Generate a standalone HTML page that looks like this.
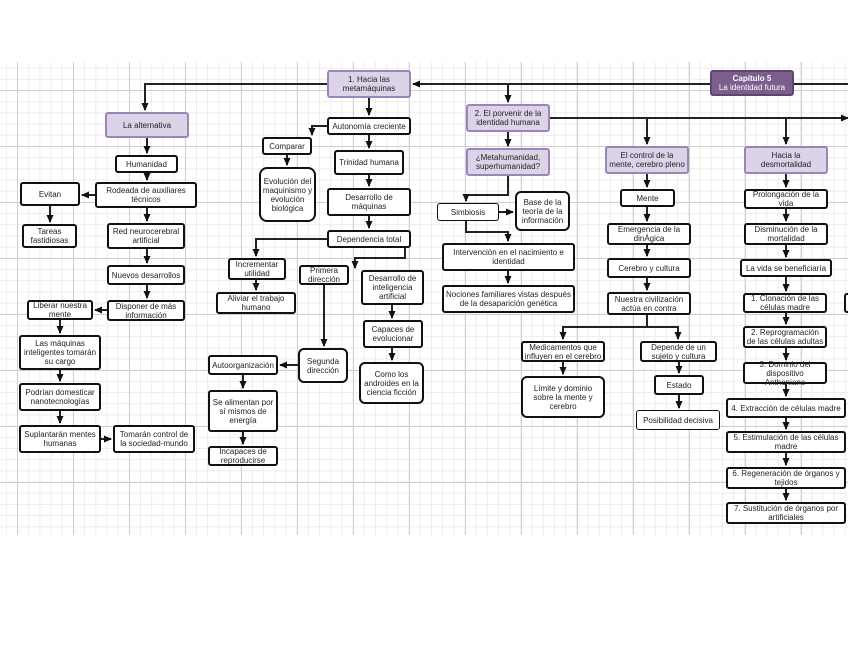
<!DOCTYPE html>
<html><head><meta charset="utf-8"><style>
body{margin:0;width:848px;height:655px;background:#fff;position:relative;overflow:hidden;font-family:"Liberation Sans",sans-serif}
#grid{position:absolute;left:0;top:62px;width:848px;height:473px;
background-image:linear-gradient(#cfcfcf 1px,transparent 1px),linear-gradient(90deg,#cfcfcf 1px,transparent 1px),linear-gradient(#ececec 1px,transparent 1px),linear-gradient(90deg,#ececec 1px,transparent 1px);
background-size:56px 56px,56px 56px,11.2px 11.2px,11.2px 11.2px;background-position:0 28px,17px 0,0 28px,17px 0}
.b{position:absolute;box-sizing:border-box;border:2px solid #111;border-radius:3px;background:#fff;font-size:8px;line-height:9px;text-align:center;display:flex;flex-direction:column;align-items:center;justify-content:center;color:#222;padding:0 1px}
.p{background:#ddd3e8;border:2px solid #9a85b8;border-radius:3px}
.d{background:#7a5e8e;border:2px solid #5d4570;color:#fff;border-radius:3px}
svg{position:absolute;left:0;top:0}
</style></head><body>
<div id="grid"></div>
<svg width="848" height="655">
<defs><marker id="a" markerUnits="userSpaceOnUse" markerWidth="8" markerHeight="8" refX="7" refY="4" orient="auto"><path d="M0,0.5L8,4L0,7.5z" fill="#111"/></marker></defs>
<g stroke="#222" stroke-width="2" fill="none" marker-end="url(#a)">
<path d="M848,84H413"/><path d="M327,84H145V110"/><path d="M508,84V102"/>
<path d="M550,118H848"/><path d="M647,118V144"/><path d="M786,118V144"/>
<path d="M369,98V115"/><path d="M508,132V146"/>
<path d="M147,138V153"/><path d="M147,173V180"/><path d="M95,195H82"/><path d="M50,206V222"/>
<path d="M147,208V221"/><path d="M147,249V263"/><path d="M147,285V298"/><path d="M107,310H95"/>
<path d="M60,320V333"/><path d="M60,370V381"/><path d="M60,411V423"/><path d="M101,439H111"/>
<path d="M327,126H312V135"/><path d="M287,155V165"/><path d="M369,135V148"/><path d="M369,175V186"/><path d="M369,216V228"/>
<path d="M327,239H256V256"/><path d="M256,280V290"/><path d="M405,248V258H355V268"/><path d="M324,285V346"/>
<path d="M392,305V318"/><path d="M392,348V360"/><path d="M298,365H280"/><path d="M243,375V388"/><path d="M243,432V444"/>
<path d="M508,176V195H466V201"/><path d="M499,212H513"/><path d="M466,221V232H508V241"/><path d="M508,271V283"/>
<path d="M647,174V187"/><path d="M647,207V221"/><path d="M647,245V256"/><path d="M647,278V290"/>
<path d="M647,315V327H563V339"/><path d="M647,327H678V339"/><path d="M563,362V374"/><path d="M679,362V373"/><path d="M679,395V408"/>
<path d="M786,174V187"/><path d="M786,209V221"/><path d="M786,245V257"/><path d="M786,277V291"/><path d="M786,313V324"/>
<path d="M786,348V360"/><path d="M786,384V396"/><path d="M786,418V429"/><path d="M786,453V465"/><path d="M786,489V500"/>
</g></svg>
<div class="b p" style="left:327px;top:70px;width:84px;height:28px">1. Hacia las metamáquinas</div>
<div class="b d" style="left:710px;top:70px;width:84px;height:26px"><b>Capítulo 5</b><span>La identidad futura</span></div>
<div class="b p" style="left:466px;top:104px;width:84px;height:28px">2. El porvenir de la identidad humana</div>
<div class="b p" style="left:105px;top:112px;width:84px;height:26px">La alternativa</div>
<div class="b" style="left:115px;top:155px;width:63px;height:18px">Humanidad</div>
<div class="b" style="left:95px;top:182px;width:102px;height:26px">Rodeada de auxiliares técnicos</div>
<div class="b" style="left:20px;top:182px;width:60px;height:24px">Evitan</div>
<div class="b" style="left:22px;top:224px;width:55px;height:24px">Tareas fastidiosas</div>
<div class="b" style="left:107px;top:223px;width:78px;height:26px">Red neurocerebral artificial</div>
<div class="b" style="left:107px;top:265px;width:78px;height:20px">Nuevos desarrollos</div>
<div class="b" style="left:107px;top:300px;width:78px;height:21px">Disponer de más información</div>
<div class="b" style="left:27px;top:300px;width:66px;height:20px">Liberar nuestra mente</div>
<div class="b" style="left:19px;top:335px;width:82px;height:35px">Las máquinas inteligentes tomarán su cargo</div>
<div class="b" style="left:19px;top:383px;width:82px;height:28px">Podrían domesticar nanotecnologías</div>
<div class="b" style="left:19px;top:425px;width:82px;height:28px">Suplantarán mentes humanas</div>
<div class="b" style="left:113px;top:425px;width:82px;height:28px">Tomarán control de la sociedad-mundo</div>
<div class="b" style="left:327px;top:117px;width:84px;height:18px">Autonomía creciente</div>
<div class="b" style="left:262px;top:137px;width:50px;height:18px">Comparar</div>
<div class="b" style="left:259px;top:167px;width:57px;height:55px;border-radius:8px">Evolución del maquinismo y evolución biológica</div>
<div class="b" style="left:334px;top:150px;width:70px;height:25px">Trinidad humana</div>
<div class="b" style="left:327px;top:188px;width:84px;height:28px">Desarrollo de máquinas</div>
<div class="b" style="left:327px;top:230px;width:84px;height:18px">Dependencia total</div>
<div class="b" style="left:228px;top:258px;width:58px;height:22px">Incrementar utilidad</div>
<div class="b" style="left:216px;top:292px;width:80px;height:22px">Aliviar el trabajo humano</div>
<div class="b" style="left:299px;top:265px;width:50px;height:20px">Primera dirección</div>
<div class="b" style="left:361px;top:270px;width:63px;height:35px">Desarrollo de inteligencia artificial</div>
<div class="b" style="left:363px;top:320px;width:60px;height:28px">Capaces de evolucionar</div>
<div class="b" style="left:359px;top:362px;width:65px;height:42px;border-radius:6px">Como los androides en la ciencia ficción</div>
<div class="b" style="left:298px;top:348px;width:50px;height:35px;border-radius:6px">Segunda dirección</div>
<div class="b" style="left:208px;top:355px;width:70px;height:20px">Autoorganización</div>
<div class="b" style="left:208px;top:390px;width:70px;height:42px">Se alimentan por sí mismos de energía</div>
<div class="b" style="left:208px;top:446px;width:70px;height:20px">Incapaces de reproducirse</div>
<div class="b p" style="left:466px;top:148px;width:84px;height:28px">¿Metahumanidad, superhumanidad?</div>
<div class="b" style="left:437px;top:203px;width:62px;height:18px;border-width:1px">Simbiosis</div>
<div class="b" style="left:515px;top:191px;width:55px;height:40px;border-radius:6px">Base de la teoría de la información</div>
<div class="b" style="left:442px;top:243px;width:133px;height:28px">Intervención en el nacimiento e identidad</div>
<div class="b" style="left:442px;top:285px;width:133px;height:28px">Nociones familiares vistas después de la desaparición genética</div>
<div class="b p" style="left:605px;top:146px;width:84px;height:28px">El control de la mente, cerebro pleno</div>
<div class="b" style="left:620px;top:189px;width:55px;height:18px">Mente</div>
<div class="b" style="left:607px;top:223px;width:84px;height:22px">Emergencia de la dinÁgica</div>
<div class="b" style="left:607px;top:258px;width:84px;height:20px">Cerebro y cultura</div>
<div class="b" style="left:607px;top:292px;width:84px;height:23px">Nuestra civilización actúa en contra</div>
<div class="b" style="left:521px;top:341px;width:84px;height:21px">Medicamentos que influyen en el cerebro</div>
<div class="b" style="left:521px;top:376px;width:84px;height:42px;border-radius:6px">Límite y dominio sobre la mente y cerebro</div>
<div class="b" style="left:640px;top:341px;width:77px;height:21px">Depende de un sujeto y cultura</div>
<div class="b" style="left:654px;top:375px;width:50px;height:20px">Estado</div>
<div class="b" style="left:636px;top:410px;width:84px;height:20px;border-width:1px">Posibilidad decisiva</div>
<div class="b p" style="left:744px;top:146px;width:84px;height:28px">Hacia la desmortalidad</div>
<div class="b" style="left:744px;top:189px;width:84px;height:20px">Prolongación de la vida</div>
<div class="b" style="left:744px;top:223px;width:84px;height:22px">Disminución de la mortalidad</div>
<div class="b" style="left:740px;top:259px;width:92px;height:18px">La vida se beneficiaría</div>
<div class="b" style="left:743px;top:293px;width:84px;height:20px">1. Clonación de las células madre</div>
<div class="b" style="left:743px;top:326px;width:84px;height:22px">2. Reprogramación de las células adultas</div>
<div class="b" style="left:743px;top:362px;width:84px;height:22px">3. Dominio del dispositivo Anthoniano</div>
<div class="b" style="left:726px;top:398px;width:120px;height:20px">4. Extracción de células madre</div>
<div class="b" style="left:726px;top:431px;width:120px;height:22px">5. Estimulación de las células madre</div>
<div class="b" style="left:726px;top:467px;width:120px;height:22px">6. Regeneración de órganos y tejidos</div>
<div class="b" style="left:726px;top:502px;width:120px;height:22px">7. Sustitución de órganos por artificiales</div>
<div class="b" style="left:844px;top:293px;width:10px;height:20px"></div>
</body></html>
